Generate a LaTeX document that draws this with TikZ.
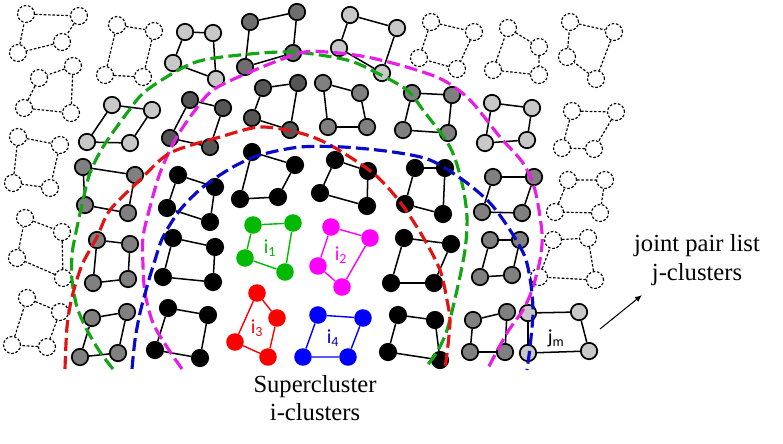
\documentclass[tikz,border=0pt]{standalone}
\usepackage{fontspec}
\setmainfont{Liberation Serif}
\newfontfamily\lblfont{Carlito}
\usetikzlibrary{arrows.meta}

\definecolor{lightnode}{RGB}{200,200,200}
\definecolor{midnode}{RGB}{128,128,128}
\definecolor{middark}{RGB}{110,110,110}
\definecolor{darknode}{RGB}{85,85,85}
\definecolor{igreen}{RGB}{0,185,0}
\definecolor{imagenta}{RGB}{255,0,255}
\definecolor{ired}{RGB}{255,0,0}
\definecolor{iblue}{RGB}{0,0,255}
\definecolor{arcred}{RGB}{225,20,20}
\definecolor{arcgreen}{RGB}{20,165,20}
\definecolor{arcmagenta}{RGB}{230,30,230}
\definecolor{arcblue}{RGB}{10,10,200}

% one cluster: node style, edge style, name, four corners
\newcommand{\quadcluster}[7]{%
  \node[#1] (#3-1) at (#4) {};
  \node[#1] (#3-2) at (#5) {};
  \node[#1] (#3-3) at (#6) {};
  \node[#1] (#3-4) at (#7) {};
  \draw[#2] (#3-1) -- (#3-2) -- (#3-3) -- (#3-4) -- (#3-1);
}

\begin{document}
\begin{tikzpicture}[x=0.03cm,y=-0.03cm,
    dotnode/.style={circle,draw,line width=1pt,dash pattern=on 2.2pt off 1.5pt,minimum size=14.5pt,inner sep=0pt},
    dotedge/.style={line width=1pt,dash pattern=on 2.2pt off 1.5pt},
    solidnode/.style={circle,draw,line width=1.5pt,fill=#1,minimum size=14pt,inner sep=0pt},
    solidedge/.style={line width=1.3pt},
    colnode/.style={circle,fill=#1,minimum size=15pt,inner sep=0pt},
    coledge/.style={line width=1.2pt,#1},
    arcline/.style={line width=2.7pt,dash pattern=on 11pt off 4.5pt,#1},
    lbl/.style={font=\lblfont\fontsize{17}{20}\selectfont,inner sep=0pt},
    bigtext/.style={font=\rmfamily\fontsize{21}{24.5}\selectfont,align=center,inner sep=0pt}]
      % \draw[help lines,step=50](0,0) grid (783,443);

      % Bounding box
      \useasboundingbox (0,0) rectangle (783,443);

      % outer clusters
      \quadcluster{dotnode}{dotedge}{out1}{26,14}{79,16}{62,42}{18,53}
      \quadcluster{dotnode}{dotedge}{out2}{117,25}{154,31}{143,77}{105,75}
      \quadcluster{dotnode}{dotedge}{out3}{73,66}{39,78}{24,108}{71,113}
      \quadcluster{dotnode}{dotedge}{out4}{18,137}{60,145}{50,188}{13,183}
      \quadcluster{dotnode}{dotedge}{out5}{25,218}{62,232}{63,278}{17,258}
      \quadcluster{dotnode}{dotedge}{out6}{27,298}{60,312}{47,347}{12,345}
      \quadcluster{dotnode}{dotedge}{out7}{431,22}{474,32}{457,69}{419,58}
      \quadcluster{dotnode}{dotedge}{out8}{508,28}{539,47}{539,75}{493,70}
      \quadcluster{dotnode}{dotedge}{out9}{570,22}{614,32}{596,79}{567,57}
      \quadcluster{dotnode}{dotedge}{out10}{572,111}{616,112}{594,149}{562,148}
      \quadcluster{dotnode}{dotedge}{out11}{568,180}{605,180}{600,213}{555,212}
      \quadcluster{dotnode}{dotedge}{out12}{553,240}{588,238}{595,280}{539,277}

      % light gray ring
      \quadcluster{solidnode=lightnode}{solidedge}{lg1}{185,32}{213,33}{216,79}{173,63}
      \quadcluster{solidnode=lightnode}{solidedge}{lg2}{350,15}{397,28}{382,73}{339,48}
      \quadcluster{solidnode=lightnode}{solidedge}{lg3}{112,105}{152,110}{130,143}{87,142}
      \quadcluster{solidnode=lightnode}{solidedge}{lg4}{492,103}{532,108}{527,140}{485,143}
      \quadcluster{solidnode=lightnode}{solidedge}{jm}{528,313}{579,312}{589,351}{528,353}

      % gray rings
      \quadcluster{solidnode=middark}{solidedge}{dk1}{250,22}{297,12}{293,53}{245,67}
      \quadcluster{solidnode=darknode}{solidedge}{dk2}{190,100}{223,108}{210,147}{170,138}
      \quadcluster{solidnode=darknode}{solidedge}{dk3}{263,88}{298,83}{290,130}{252,118}
      \quadcluster{solidnode=midnode}{solidedge}{md1}{323,83}{360,93}{367,127}{328,127}
      \quadcluster{solidnode=midnode}{solidedge}{md2}{412,93}{452,95}{448,133}{403,130}
      \quadcluster{solidnode=midnode}{solidedge}{md3}{83,167}{135,175}{128,213}{85,205}
      \quadcluster{solidnode=midnode}{solidedge}{md4}{97,240}{130,244}{128,279}{93,283}
      \quadcluster{solidnode=midnode}{solidedge}{md5}{92,318}{127,312}{118,353}{80,357}
      \quadcluster{solidnode=midnode}{solidedge}{md6}{493,177}{534,177}{522,213}{482,212}
      \quadcluster{solidnode=midnode}{solidedge}{md7}{490,240}{520,240}{512,275}{480,277}
      \quadcluster{solidnode=midnode}{solidedge}{md8}{473,320}{507,312}{505,352}{470,352}

      % black ring
      \quadcluster{solidnode=black}{solidedge}{bk1}{178,175}{215,187}{210,222}{167,208}
      \quadcluster{solidnode=black}{solidedge}{bk2}{173,238}{215,247}{213,282}{163,277}
      \quadcluster{solidnode=black}{solidedge}{bk3}{168,308}{208,315}{200,358}{155,350}
      \quadcluster{solidnode=black}{solidedge}{bk4}{252,152}{295,165}{278,197}{240,199}
      \quadcluster{solidnode=black}{solidedge}{bk5}{335,160}{368,171}{367,206}{320,193}
      \quadcluster{solidnode=black}{solidedge}{bk6}{415,168}{445,168}{443,214}{405,204}
      \quadcluster{solidnode=black}{solidedge}{bk7}{404,238}{451,244}{434,283}{391,283}
      \quadcluster{solidnode=black}{solidedge}{bk8}{398,315}{435,320}{440,360}{388,352}

      % i-clusters
      \quadcluster{colnode=igreen}{coledge=igreen}{ia}{253,225}{293,223}{285,272}{245,258}
      \quadcluster{colnode=imagenta}{coledge=imagenta}{ib}{331,227}{370,238}{342,287}{318,266}
      \quadcluster{colnode=ired}{coledge=ired}{ic}{257,293}{277,318}{268,357}{235,342}
      \quadcluster{colnode=iblue}{coledge=iblue}{id}{318,315}{363,318}{348,357}{303,357}

      \node[lbl,text=igreen] (ia-lbl) at (270,248) {i\textsubscript{1}};
      \node[lbl,text=imagenta] (ib-lbl) at (341,255) {i\textsubscript{2}};
      \node[lbl,text=ired] (ic-lbl) at (257,328) {i\textsubscript{3}};
      \node[lbl,text=iblue!75!black] (id-lbl) at (333,338) {i\textsubscript{4}};
      \node[lbl] (jm-lbl) at (556,338) {j\textsubscript{m}};

      % pair list boundaries
      \draw[arcline=arcgreen] plot[smooth] coordinates {(113,369) (100,352) (87,330) (77,307) (72,280) (72,255) (75,237) (83,200) (90,173) (103,147) (127,113) (147,90) (193,63) (240,55) (293,52) (347,60) (377,73) (407,90) (423,110) (450,147) (462,183) (467,217) (465,250) (457,290) (447,330) (437,352) (425,368)};
      \draw[arcline=arcmagenta] plot[smooth] coordinates {(182,369) (167,347) (153,323) (145,293) (143,265) (143,237) (150,207) (160,173) (175,140) (193,113) (213,90) (250,72) (300,53) (327,52) (367,57) (410,68) (443,80) (470,100) (500,137) (523,163) (535,190) (542,233) (540,260) (532,290) (523,310) (507,333) (487,370)};
      \draw[arcline=arcred] plot[smooth] coordinates {(65,369) (67,327) (72,297) (82,265) (97,237) (110,210) (140,180) (170,153) (220,137) (260,127) (300,133) (330,145) (373,173) (400,202) (423,237) (440,270) (447,300) (450,320) (448,345) (445,368)};
      \draw[arcline=arcblue] plot[smooth] coordinates {(132,369) (135,340) (140,313) (148,283) (155,260) (163,237) (180,210) (203,187) (233,167) (260,155) (300,147) (343,147) (393,152) (430,160) (463,180) (490,203) (510,230) (525,257) (531,285) (533,313) (530,347) (527,370)};

      % texts
      \node[bigtext] (super) at (315,398) {Supercluster\\i-clusters};
      \node[bigtext] (jlist) at (697,260) {joint pair list\\j-clusters};

      \coordinate (jm-tail) at (600,329);
      \coordinate (jm-head) at (642,295);
      \draw[-{Latex[length=6pt,width=5pt]},line width=0.9pt] (jm-tail) -- (jm-head);
    \end{tikzpicture}
\end{document}
